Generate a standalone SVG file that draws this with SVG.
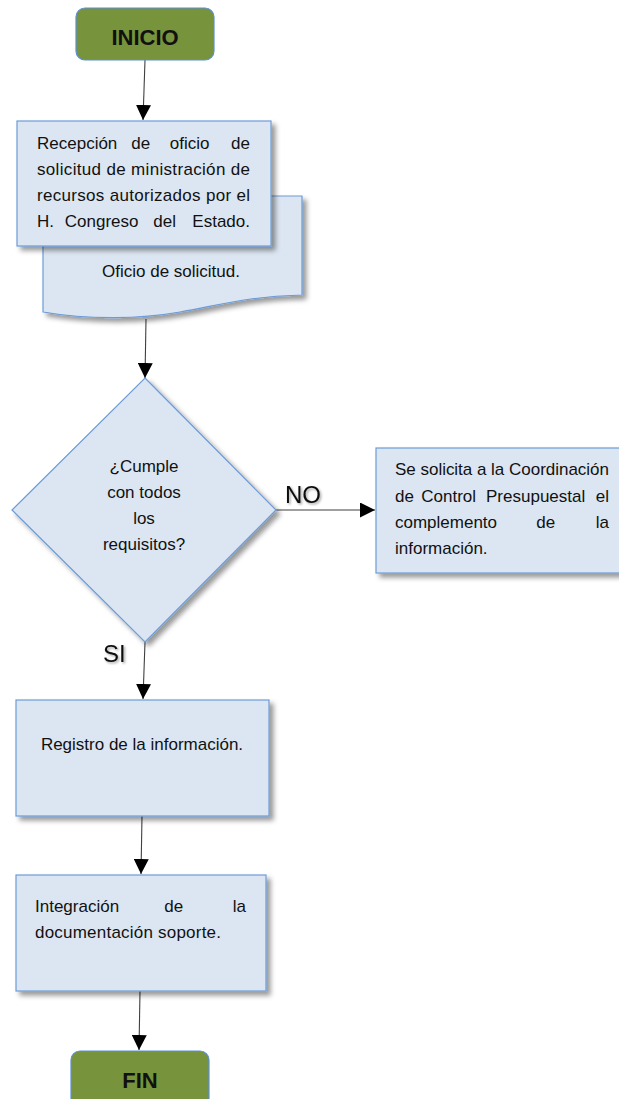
<svg xmlns="http://www.w3.org/2000/svg" width="619" height="1099" viewBox="0 0 619 1099">
<defs>
<filter id="sh" x="-10%" y="-10%" width="130%" height="130%">
<feDropShadow dx="4" dy="4" stdDeviation="2.5" flood-color="#000" flood-opacity="0.4"/>
</filter>
<filter id="tsh" x="-20%" y="-20%" width="150%" height="150%">
<feDropShadow dx="1.5" dy="1.5" stdDeviation="1" flood-color="#000" flood-opacity="0.35"/>
</filter>
<marker id="ah" viewBox="0 0 10 10" refX="10" refY="5" markerWidth="15" markerHeight="15" markerUnits="userSpaceOnUse" orient="auto">
<path d="M0,0 L10,5 L0,10 z" fill="#000"/>
</marker>
</defs>
<style>
.box{fill:#dce6f2;stroke:#6c9bd8;stroke-width:1.2}
.term{fill:#77933c;stroke:#5b8fd6;stroke-width:1.2}
.t{font-family:"Liberation Sans",Arial,sans-serif;font-size:17px;fill:#111}
.tb{font-family:"Liberation Sans",Arial,sans-serif;font-size:22px;font-weight:bold;fill:#111;text-anchor:middle}
.lbl{font-family:"Liberation Sans",Arial,sans-serif;font-size:24px;fill:#111}
.c{fill:none;stroke:#404040;stroke-width:1.1;marker-end:url(#ah)}
.m{text-anchor:middle}
.e{text-anchor:end}
.s{text-anchor:start}
</style>

<g id="connectors">
<path class="c" d="M145,60 L143,120"/>
<path class="c" d="M146,319 L145,378"/>
<path class="c" d="M276,510 L375,510"/>
<path class="c" d="M145,642 L143,699"/>
<path class="c" d="M142,816 L141,874"/>
<path class="c" d="M140,991 L139,1050"/>
</g>

<g id="inicio">
<rect class="term" x="76" y="8" width="138" height="52" rx="9"/>
<text class="tb" x="145" y="45">INICIO</text>
</g>

<g id="oficio">
<path class="box" filter="url(#sh)" d="M43,196 L302,196 L302,295 C250,296 220,305 180,312 C140,319 90,320 43,312 Z"/>
<text class="t m" x="171" y="277">Oficio de solicitud.</text>
</g>

<g id="recepcion">
<rect class="box" filter="url(#sh)" x="17" y="121" width="254" height="125"/>
<text class="t" y="149"><tspan class="s" x="37">Recepción </tspan><tspan class="m" x="143">de </tspan><tspan class="m" x="192">oficio </tspan><tspan class="e" x="250">de</tspan></text>
<text class="t" x="37" y="175" textLength="213" lengthAdjust="spacing">solicitud de ministración de</text>
<text class="t" x="37" y="201" textLength="213" lengthAdjust="spacing">recursos autorizados por el</text>
<text class="t" y="227"><tspan class="s" x="37">H. </tspan><tspan class="m" x="104">Congreso </tspan><tspan class="m" x="167">del </tspan><tspan class="e" x="250">Estado.</tspan></text>
</g>

<g id="decision">
<path class="box" filter="url(#sh)" d="M145,378 L276,510 L145,642 L12,510 Z"/>
<text class="t m" x="144" y="472">¿Cumple</text>
<text class="t m" x="144" y="498">con todos</text>
<text class="t m" x="144" y="524">los</text>
<text class="t m" x="144" y="550">requisitos?</text>
</g>

<g id="labels">
<text class="lbl" x="285" y="503" filter="url(#tsh)">NO</text>
<text class="lbl" x="103" y="662" filter="url(#tsh)">SI</text>
</g>

<g id="solicita">
<rect class="box" filter="url(#sh)" x="376" y="448" width="260" height="125"/>
<text class="t" x="395" y="475" textLength="214" lengthAdjust="spacing">Se solicita a la Coordinación</text>
<text class="t" y="502"><tspan class="s" x="395">de </tspan><tspan class="m" x="451">Control </tspan><tspan class="m" x="538">Presupuestal </tspan><tspan class="e" x="609">el</tspan></text>
<text class="t" y="528"><tspan class="s" x="395">complemento </tspan><tspan class="m" x="548">de </tspan><tspan class="e" x="609">la</tspan></text>
<text class="t" x="395" y="554">información.</text>
</g>

<g id="registro">
<rect class="box" filter="url(#sh)" x="16" y="700" width="253" height="116"/>
<text class="t m" x="142" y="750">Registro de la información.</text>
</g>

<g id="integracion">
<rect class="box" filter="url(#sh)" x="16" y="875" width="250" height="116"/>
<text class="t" y="912"><tspan class="s" x="35">Integración </tspan><tspan class="m" x="176">de </tspan><tspan class="e" x="246">la</tspan></text>
<text class="t" x="35" y="938" textLength="186" lengthAdjust="spacing">documentación soporte.</text>
</g>

<g id="fin">
<rect class="term" x="71" y="1051" width="138" height="60" rx="9"/>
<text class="tb" x="140" y="1088">FIN</text>
</g>
</svg>
